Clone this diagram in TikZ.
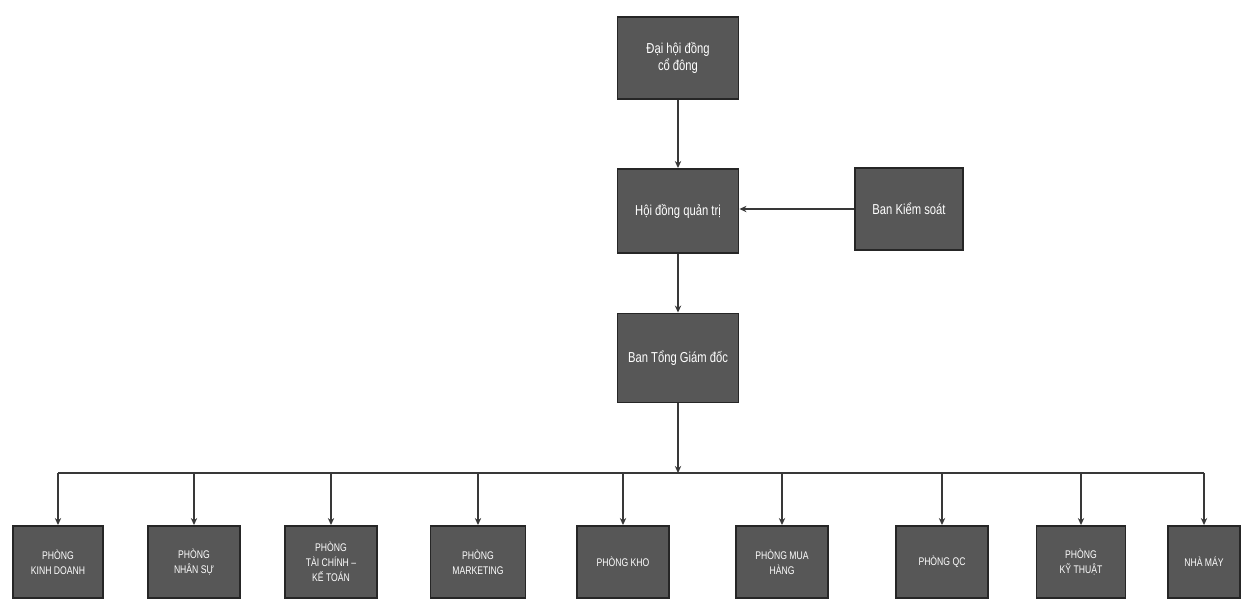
\documentclass[tikz,border=0pt]{standalone}
\usepackage{fontspec}
\setmainfont{Liberation Sans}[FakeStretch=0.78]
\usetikzlibrary{arrows.meta}
\definecolor{boxgray}{HTML}{575757}
\definecolor{edgegray}{HTML}{262626}
\definecolor{linegray}{HTML}{383838}

\begin{document}
\begin{tikzpicture}[x=0.02cm, y=-0.02cm,
  box/.style={draw=edgegray, line width=1.1pt, fill=boxgray, text=white,
    align=center, inner sep=2pt},
  top/.style={box, minimum width=2.42cm, minimum height=1.64cm,
    font=\fontsize{8.2}{9.8}\selectfont},
  dept/.style={box, minimum width=1.84cm, minimum height=1.44cm,
    font=\fontsize{6.3}{8.6}\selectfont},
  link/.style={draw=linegray, line width=0.9pt, -{Stealth[length=4pt,width=3.6pt]}}]
  \fill[white] (0,0) rectangle (1242,599);
  % upper levels
  \node [top] (dhcd) at (678,58) {Đại hội đồng\\cổ đông};
  \node [top, minimum height=1.68cm] (hdqt) at (678,211) {Hội đồng quản trị};
  \node [top, minimum width=2.16cm] (bks) at (909,209) {Ban Kiểm soát};
  \node [top, minimum height=1.78cm] (btgd) at (678,358) {Ban Tổng Giám đốc};
  % departments
  \node [dept, minimum width=1.8cm] (kd) at (58,562) {PHÒNG\\KINH DOANH};
  \node [dept] (ns) at (194,562) {PHÒNG\\NHÂN SỰ};
  \node [dept] (tckt) at (331,562) {PHÒNG\\TÀI CHÍNH –\\KẾ TOÁN};
  \node [dept, minimum width=1.9cm] (mkt) at (478,562) {PHÒNG\\MARKETING};
  \node [dept] (kho) at (623,562) {PHÒNG KHO};
  \node [dept] (mh) at (782,562) {PHÒNG MUA\\HÀNG};
  \node [dept] (qc) at (942,562) {PHÒNG QC};
  \node [dept, minimum width=1.78cm] (kt) at (1081,562) {PHÒNG\\KỸ THUẬT};
  \node [dept, minimum width=1.44cm] (nm) at (1204,562) {NHÀ MÁY};
  % connectors
  \draw [link] (dhcd) -- (hdqt);
  \draw [link] (hdqt) -- (btgd);
  \draw [link] (bks.west) -- (bks.west -| hdqt.east);
  \coordinate (bus) at (678,473);
  \draw [link] (btgd) -- (bus);
  \draw [draw=linegray, line width=0.9pt] (kd.north |- bus) -- (nm.north |- bus);
  \draw [link] (kd.north |- bus) -- (kd);
  \draw [link] (ns.north |- bus) -- (ns);
  \draw [link] (tckt.north |- bus) -- (tckt);
  \draw [link] (mkt.north |- bus) -- (mkt);
  \draw [link] (kho.north |- bus) -- (kho);
  \draw [link] (mh.north |- bus) -- (mh);
  \draw [link] (qc.north |- bus) -- (qc);
  \draw [link] (kt.north |- bus) -- (kt);
  \draw [link] (nm.north |- bus) -- (nm);
\end{tikzpicture}
\end{document}
